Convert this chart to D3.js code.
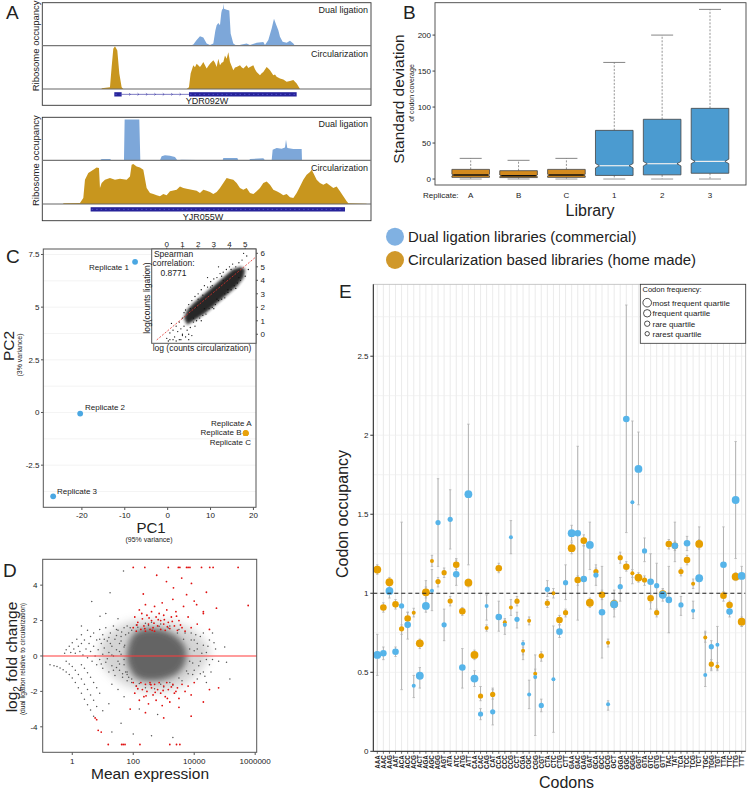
<!DOCTYPE html>
<html><head><meta charset="utf-8">
<script src="https://cdn.jsdelivr.net/npm/d3@7/dist/d3.min.js"></script>
<style>
body{margin:0;background:#fff;}
svg{display:block;}
text{font-family:"Liberation Sans",Arial,Helvetica,sans-serif;fill:#222;}
</style></head>
<body>
<svg id="fig" width="747" height="791"></svg>
<script>
// ================= DATA =================
// Panel A: coverage profiles [genomic position, reads]
const g1Dual = [[570,0],[580,4],[590,17],[600,29],[610,25],[620,7],[630,2],[640,7],[646,45],[650,62],[655,69],[660,62],[664,100],[666,109],[669,112],[670,127],[672,112],[680,109],[688,107],[692,37],[700,7],[710,0],[725,4],[740,7],[750,2],[770,9],[790,11],[795,2],[805,17],[815,52],[822,82],[828,65],[835,47],[840,27],[848,12],[860,9],[870,15],[880,7],[885,0]];
const g1Circ = [[305,2],[330,5],[335,67],[340,122],[345,130],[352,117],[358,47],[365,5],[370,0],[560,0],[567,5],[572,47],[580,72],[585,66],[590,77],[600,67],[605,74],[610,82],[620,62],[625,70],[630,77],[640,87],[645,80],[650,67],[655,92],[660,72],[665,80],[670,82],[675,102],[680,92],[685,112],[688,95],[690,82],[700,57],[705,65],[710,67],[720,72],[725,66],[730,62],[740,72],[745,64],[750,67],[760,72],[765,60],[770,52],[780,42],[785,48],[790,52],[800,67],[805,62],[810,57],[820,42],[825,44],[830,37],[840,32],[850,29],[860,22],[870,24],[880,27],[890,17],[900,0]];
const g2Dual = [[300,0],[305,4],[330,4],[335,0],[372,0],[374,124],[418,124],[421,0],[480,0],[485,12],[495,15],[510,14],[525,10],[532,0],[545,2],[590,1],[600,0],[668,0],[670,7],[712,7],[715,0],[748,0],[750,4],[790,6],[795,0],[815,0],[818,32],[830,37],[845,35],[855,39],[858,62],[862,37],[880,34],[905,34],[906,0]];
const g2Circ = [[190,2],[240,3],[250,18],[255,73],[265,93],[280,103],[290,110],[297,108],[300,48],[305,63],[315,73],[330,78],[345,73],[360,76],[380,73],[390,83],[395,118],[400,120],[410,113],[420,110],[430,103],[440,48],[450,33],[460,30],[470,26],[480,23],[490,30],[500,26],[510,38],[530,43],[540,53],[550,48],[560,46],[575,43],[590,40],[600,33],[610,43],[620,40],[630,36],[640,30],[650,36],[660,48],[670,63],[680,78],[690,75],[700,73],[710,63],[720,48],[730,43],[740,48],[750,33],[760,30],[770,38],[780,48],[790,63],[800,68],[810,58],[820,43],[830,38],[840,33],[850,26],[860,30],[870,20],[880,18],[890,33],[900,53],[910,73],[920,88],[930,96],[935,103],[940,93],[950,73],[960,63],[970,58],[980,63],[990,56],[1000,48],[1010,53],[1020,38],[1030,23],[1040,8],[1045,2],[1100,1]];
const g1Exons = [[343,365],[567,890]];
const g1Introns = [[365,567]];
const g2Exons = [[272,1035]];
const g2Introns = [];
const geneNames = ["YDR092W","YJR055W"];

// Panel B: box plot statistics of SD of codon coverage
const libs = ["A","B","C","1","2","3"];
const libType = ["circ","circ","circ","dual","dual","dual"];
const bxLo = [0,0,0,0,0,0];
const bxQ1 = [2.3,2.0,2.3,5.0,5.8,8.0];
const bxMed = [5.5,4.5,5.5,18.5,21.3,24.5];
const bxQ3 = [13.4,11.6,13.4,67.6,83,98.2];
const bxHi = [28.7,26,28.7,162,200,235.7];
const bTicks = [0,50,100,150,200];

// Panel C: PCA
const pcaNames = ["Replicate 1","Replicate 2","Replicate 3","Replicate A","Replicate B","Replicate C"];
const pcaType = ["dual","dual","dual","circ","circ","circ"];
const pc1 = [-7.6,-20.4,-26.7,18.2,18.2,18.2];
const pc2 = [7.15,-0.05,-3.98,-0.98,-0.98,-0.98];
const cXTicks = [-20,-10,0,10,20];
const cYTicks = [-2.5,0,2.5,5,7.5];
// Inset: log counts (circularization, ligation)
const insetCore = [[1.3,0.7],[2.0,1.2],[2.5,1.6],[3.0,2.1],[3.5,2.6],[4.0,3.1],[4.5,3.6],[4.9,4.2],[5.0,4.8],[4.7,5.0],[4.2,4.8],[3.7,4.3],[3.2,3.8],[2.7,3.3],[2.2,2.8],[1.7,2.3],[1.3,1.8],[1.1,1.2]];
const insetPts = [[0.0,-0.3],[0.2,0.1],[0.4,0.3],[0.5,-0.2],[0.6,0.6],[0.7,0.2],[0.8,0.9],[0.9,0.4],[1.0,-0.1],[1.0,1.2],[1.1,0.6],[1.2,1.8],[1.3,0.3],[1.4,2.2],[1.5,0.5],[1.6,2.5],[1.7,0.9],[1.8,2.8],[1.9,1.0],[2.0,3.0],[2.1,1.2],[2.2,3.3],[2.3,1.4],[2.4,3.6],[2.5,1.5],[2.6,3.5],[2.7,1.9],[2.8,3.9],[2.9,2.0],[3.0,4.1],[3.1,2.2],[3.2,4.2],[3.3,2.5],[3.4,4.5],[3.5,2.6],[3.6,4.6],[3.7,3.0],[3.8,4.8],[3.9,3.1],[4.0,5.0],[4.1,3.3],[4.2,5.2],[4.3,3.6],[4.4,5.0],[4.5,3.8],[4.6,5.3],[4.7,4.0],[4.8,5.5],[5.0,4.3],[5.1,5.8],[5.2,4.8],[0.3,0.8],[0.1,-0.5],[0.6,-0.5],[1.0,0.0],[1.4,0.0],[1.8,0.6],[2.6,4.2],[3.3,5.0],[4.9,6.0],[1.2,-0.2],[0.9,-0.4],[1.6,-0.1],[1.1,1.6],[1.5,1.9],[2.3,2.9],[2.9,3.6],[3.5,4.3],[4.1,4.8],[1.7,1.2],[2.4,1.9],[3.2,2.6],[3.9,3.3],[4.6,4.2],[0.2,-0.4],[0.4,-0.4],[0.8,-0.4],[1.4,-0.4],[1.9,2.0],[2.2,1.0],[3.0,1.9],[3.7,2.7],[4.4,3.4],[2.0,2.6],[2.8,3.5],[3.6,4.0]];
const insetTicks = [0,1,2,3,4,5];
const insetYTicks = [0,1,2,3,4,5,6];
const spearman = "0.8771";

// Panel D: MA plot [log10 mean expression, log2 fold change]
const dHalo = [[1.0,0.9],[1.3,1.4],[1.7,1.8],[2.2,2.0],[2.8,2.0],[3.4,1.85],[3.9,1.5],[4.3,0.9],[4.5,0.2],[4.3,-0.6],[3.9,-1.3],[3.4,-1.8],[2.8,-2.0],[2.2,-1.9],[1.7,-1.6],[1.3,-1.1],[1.0,-0.5],[0.9,0.2]];
const dCore = [[1.8,0.2],[1.9,0.9],[2.05,1.3],[2.3,1.5],[2.7,1.55],[3.1,1.4],[3.45,1.05],[3.7,0.5],[3.75,0.0],[3.65,-0.6],[3.4,-1.05],[3.05,-1.3],[2.7,-1.4],[2.3,-1.35],[2.05,-1.15],[1.9,-0.75],[1.8,-0.3]];
const dGrey = [[-0.25,0.15],[-0.2,0.35],[-0.1,0.55],[-0.05,0.2],[0.0,0.75],[0.05,0.4],[0.1,0.15],[0.15,0.95],[0.2,0.55],[0.25,0.25],[0.3,1.2],[0.3,0.7],[0.35,0.05],[0.4,0.9],[0.45,0.4],[0.5,1.45],[0.5,-0.1],[0.55,0.7],[0.6,1.1],[0.6,0.25],[0.65,-0.3],[0.7,1.3],[0.7,0.55],[0.75,0.0],[0.8,0.9],[0.8,-0.5],[0.85,0.35],[0.9,1.5],[0.9,-0.2],[0.95,0.7],[1.0,1.2],[1.0,0.1],[1.0,-0.7],[1.05,0.45],[1.1,1.6],[1.1,-0.35],[1.15,0.85],[1.2,0.2],[1.2,-0.9],[1.25,1.3],[1.3,0.55],[1.3,-0.55],[1.35,1.7],[1.35,0.0],[1.4,0.95],[1.4,-1.1],[1.45,0.35],[1.5,1.45],[1.5,-0.3],[1.55,0.7],[1.55,-0.8],[1.6,1.1],[1.6,0.1],[1.65,-1.2],[1.7,1.6],[1.7,0.5],[1.7,-0.5],[1.75,1.2],[1.75,-0.9],[1.8,-1.4],[1.8,1.7],
[-0.73,-0.5],[-0.6,-0.55],[-0.5,-0.6],[-0.4,-0.68],[-0.3,-0.78],[-0.2,-0.9],[-0.1,-1.05],[0.0,-1.25],[0.1,-1.5],[0.2,-1.8],[0.3,-2.1],[0.4,-2.45],[0.5,-2.75],[0.6,-3.05],[0.7,-3.4],
[-0.2,-0.3],[-0.1,-0.45],[0.0,-0.6],[0.1,-0.8],[0.2,-1.05],[0.3,-1.3],[0.4,-1.6],[0.5,-1.9],[0.6,-2.2],[0.7,-2.5],[0.8,-2.85],
[0.3,-0.5],[0.4,-0.7],[0.5,-0.95],[0.6,-1.2],[0.7,-1.5],[0.8,-1.8],[0.9,-2.1],
[0.64,3.07],[0.3,1.7],[0.91,2.25],[1.24,3.57],[1.68,4.8],[1.1,2.4],[1.5,2.1],
[1.9,1.6],[2.1,1.75],[2.4,1.85],[2.6,1.9],[2.9,1.8],[3.2,1.7],[3.5,1.5],[3.7,1.3],[3.9,0.9],[4.0,0.3],[3.95,-0.4],[3.8,-1.0],[3.6,-1.4],[3.3,-1.65],[3.0,-1.75],[2.7,-1.85],[2.4,-1.8],[2.1,-1.7],[1.95,-1.5],[1.85,-1.2],[1.8,-0.9],
[3.9,1.3],[4.0,0.9],[4.0,-0.8],[4.1,0.4],[4.1,-1.3],[4.2,1.1],[4.2,-0.3],[4.3,0.6],[4.3,-0.9],[4.4,0.2],[4.5,0.9],[4.5,-0.5],[4.6,-0.2],[4.7,0.4],[4.8,-0.3],[5.06,-0.36],[5.17,-1.3],[4.4,-1.5],[4.6,1.3],[5.0,0.5],
[1.3,-1.6],[1.5,-1.9],[1.7,-2.3],[1.2,-2.7],[1.0,-3.1],[2.2,-3.0],[2.8,-3.3],[1.6,-3.8],[2.0,-4.4],[2.6,-4.5],[3.3,-4.6],[1.3,-4.3],
[1.85,1.3],[1.95,1.45],[2.15,1.62],[2.5,1.72],[2.85,1.68],[3.15,1.58],[3.45,1.3],[3.65,0.95],[3.85,0.4],[3.85,-0.3],[3.75,-0.85],[3.5,-1.25],[3.2,-1.5],[2.9,-1.6],[2.55,-1.6],[2.2,-1.55],[1.95,-1.3],[1.8,-1.05],[1.7,-0.2],[1.72,0.6],[1.6,0.85],[1.55,-0.45],[1.45,1.15],[1.45,-0.65],
[1.05,0.95],[1.15,-0.15],[1.25,0.7],[1.35,-0.8],[1.45,1.5],[1.55,0.25],[1.62,1.35],[1.65,-1.0],[0.9,0.95],[0.95,-0.45],[1.2,1.05],[1.3,0.05],[4.05,1.2],[4.15,-0.55],[4.25,0.15],[4.35,-1.15],[4.45,0.55],[4.55,-0.9],[4.65,0.75],[3.95,-1.05],[4.1,0.7],[4.2,-1.0],[4.3,1.3],[4.4,-0.2]];
const dRed = [[2.0,1.6],[2.05,2.2],[2.1,1.4],[2.15,1.9],[2.2,2.6],[2.25,1.5],[2.3,2.1],[2.35,1.7],[2.4,2.9],[2.4,1.4],[2.45,2.3],[2.5,1.8],[2.55,1.5],[2.6,2.5],[2.6,2.0],[2.65,1.6],[2.7,2.8],[2.7,1.4],[2.75,2.2],[2.8,1.7],[2.85,2.4],[2.9,1.5],[2.9,2.0],[2.95,3.0],[3.0,1.8],[3.0,2.3],[3.05,1.45],[3.1,2.6],[3.15,1.9],[3.2,1.55],[3.25,2.2],[3.3,3.2],[3.35,1.7],[3.4,2.5],[3.45,1.45],[3.5,2.0],[3.6,1.6],[3.65,2.8],[3.7,1.4],[3.8,2.2],[3.9,1.6],[4.0,3.1],[4.1,1.8],[4.3,2.4],[4.5,1.5],
[2.12,1.75],[2.28,2.4],[2.52,2.15],[2.68,1.85],[2.82,2.05],[3.02,2.05],[3.12,1.65],[3.28,1.95],[3.42,2.25],[3.55,1.75],[2.38,1.55],[2.62,1.45],
[2.33,3.5],[2.77,4.56],[3.09,4.2],[3.32,3.85],[3.59,4.4],[3.75,3.46],[3.91,4.1],[4.08,2.9],[4.3,2.5],[4.4,3.6],[4.73,2.7],[5.77,2.85],
[2.0,5],[2.38,5],[3.15,5],[3.48,5],[3.53,5],[3.75,5],[3.8,5],[3.86,5],[4.24,5],[4.51,5],[4.62,5],[5.44,5],
[2.0,-1.5],[2.05,-2.1],[2.1,-1.7],[2.2,-2.5],[2.25,-1.5],[2.3,-1.9],[2.35,-2.3],[2.4,-1.6],[2.45,-2.0],[2.5,-2.7],[2.55,-1.5],[2.6,-1.8],[2.65,-2.2],[2.7,-1.6],[2.75,-2.5],[2.8,-1.9],[2.85,-1.5],[2.9,-2.1],[2.95,-2.8],[3.0,-1.7],[3.05,-2.3],[3.1,-1.5],[3.15,-1.9],[3.2,-2.6],[3.3,-1.6],[3.35,-2.1],[3.45,-1.8],[3.5,-2.4],[3.6,-1.6],[3.7,-2.0],[3.8,-1.7],[3.9,-2.2],[4.0,-1.5],
[2.15,-1.85],[2.42,-2.25],[2.58,-1.62],[2.72,-2.05],[2.98,-1.95],[3.12,-2.4],[3.25,-1.75],[3.4,-2.0],
[1.9,-3.0],[2.4,-3.2],[3.0,-3.5],[3.5,-2.9],[3.9,-3.4],[4.3,-2.6],[4.5,-1.9],[4.8,-1.8],[0.75,-3.5],[0.8,-3.6],[0.85,-4.2],[0.95,-4.3],
[1.18,-5],[1.62,-5],[1.67,-5],[1.73,-5],[2.22,-5],[3.2,-5],[3.42,-5],[3.53,-5]];
const dXTicks = [1,100,10000,1000000];
const dYTicks = [-4,-2,0,2,4];

// Panel E: codon occupancy (61 sense codons)
const codons = ["AAA","AAC","AAG","AAT","ACA","ACC","ACG","ACT","AGA","AGC","AGG","AGT","ATA","ATC","ATG","ATT","CAA","CAC","CAG","CAT","CCA","CCC","CCG","CCT","CGA","CGC","CGG","CGT","CTA","CTC","CTG","CTT","GAA","GAC","GAG","GAT","GCA","GCC","GCG","GCT","GGA","GGC","GGG","GGT","GTA","GTC","GTG","GTT","TAC","TAT","TCA","TCC","TCG","TCT","TGC","TGG","TGT","TTA","TTC","TTG","TTT"];
const quartile = [4,3,4,3,2,3,1,4,4,1,2,2,2,3,3,4,4,2,1,2,3,1,1,2,1,1,1,2,2,1,3,2,4,3,3,4,2,3,1,4,2,3,1,4,2,3,2,4,3,3,2,3,1,4,1,2,1,3,3,4,4];
const dualVal = [0.61,0.62,1.015,0.63,0.92,0.80,0.415,0.478,0.92,1.016,1.447,0.80,1.468,1.12,0.53,1.627,0.46,0.236,0.92,0.25,0.85,0.80,1.354,0.835,0.68,0.36,0.47,0.29,1.025,0.456,0.757,1.067,1.38,1.38,1.09,1.306,1.115,0.88,0.297,0.93,1.042,2.103,1.576,1.787,1.268,1.073,1.048,0.99,0.958,1.30,0.926,1.316,0.89,1.095,0.483,0.662,0.674,1.18,0.884,1.59,1.11];
const dualLo = [0.48,0.58,0.97,0.6,0.39,0.71,0.34,0.40,0.88,0.89,1.17,0.70,1.28,1.05,0.40,1.18,0.41,0.2,0.83,0.167,0.76,0.74,1.25,0.78,0.58,0.27,0.1,0.25,0.98,0.12,0.72,0.96,1.33,0.83,1.0,1.15,1.05,0.59,0.26,0.85,0.95,1.384,1.06,1.56,1.2,0.9,0.89,0.95,0.75,1.2,0.86,1.27,0.84,1.0,0.41,0.51,0.52,0.98,0.85,1.22,0.79];
const dualHi = [0.74,0.66,1.05,0.66,1.45,0.88,0.48,0.53,1.08,1.15,1.725,0.90,1.655,1.22,0.65,2.07,0.51,0.27,0.99,0.40,0.95,0.83,1.46,0.88,0.70,0.45,0.61,0.33,1.08,0.793,0.8,1.18,1.43,1.93,1.3,1.45,1.18,1.17,0.32,1.02,1.1,2.824,2.09,2.02,1.35,1.25,1.19,1.03,1.17,1.45,0.98,1.36,0.95,1.42,0.76,0.70,0.79,1.42,0.93,1.96,1.17];
const circVal = [1.15,0.91,1.07,0.93,0.775,0.84,0.877,0.683,1.006,1.204,1.074,1.13,0.951,1.18,0.886,1.067,0.61,0.35,0.78,0.36,1.158,0.816,0.91,0.95,0.636,0.826,0.49,0.604,0.937,1.0,0.831,0.877,1.285,1.084,1.333,0.94,1.137,0.99,0.687,0.932,1.225,1.168,1.126,1.099,1.084,0.968,0.877,0.995,1.312,1.30,1.137,1.21,1.06,1.312,0.72,0.551,0.536,0.985,0.926,1.105,0.82];
const circLo = [1.12,0.88,1.04,0.9,0.74,0.8,0.85,0.65,0.97,1.17,1.04,1.1,0.92,1.15,0.86,1.04,0.58,0.32,0.76,0.33,1.13,0.79,0.86,0.92,0.61,0.8,0.46,0.57,0.91,0.97,0.8,0.85,1.25,1.05,1.3,0.91,1.11,0.96,0.66,0.9,1.19,1.14,1.1,1.07,1.05,0.94,0.85,0.97,1.28,1.27,1.11,1.18,1.03,1.28,0.69,0.52,0.51,0.95,0.9,1.08,0.79];
const circHi = [1.18,0.94,1.1,0.96,0.8,0.88,0.905,0.71,1.04,1.24,1.1,1.16,0.98,1.21,0.91,1.09,0.64,0.41,0.8,0.39,1.19,0.84,0.96,0.98,0.66,0.85,0.52,0.63,0.96,1.03,0.86,0.9,1.32,1.11,1.37,0.97,1.16,1.02,0.71,0.96,1.26,1.2,1.15,1.13,1.11,1.0,0.9,1.02,1.34,1.33,1.16,1.24,1.09,1.34,0.75,0.58,0.56,1.01,0.95,1.13,0.85];
const eYTicks = [0,0.5,1,1.5,2,2.5];
const quartileNames = ["most frequent quartile","frequent quartile","rare quartile","rarest quartile"];

// ================= COLOURS =================
const C_BLUE_A = "#7da7d9", C_GOLD_A = "#c8961e", C_GENE = "#26239a";
const C_BOX_O = "#d38a1e", C_BOX_B = "#4b9bd0";
const C_LEG_B = "#80b1e2", C_LEG_O = "#d0982a";
const C_E_B = "#56b4e9", C_E_O = "#e69f00";

const svg = d3.select("#fig");
const defs = svg.append("defs");
defs.append("filter").attr("id", "blur3").attr("x", "-30%").attr("y", "-30%").attr("width", "160%").attr("height", "160%")
  .append("feGaussianBlur").attr("stdDeviation", 3.2);
defs.append("filter").attr("id", "blur5").attr("x", "-40%").attr("y", "-40%").attr("width", "180%").attr("height", "180%")
  .append("feGaussianBlur").attr("stdDeviation", 5);
defs.append("filter").attr("id", "blur1").attr("x", "-30%").attr("y", "-30%").attr("width", "160%").attr("height", "160%")
  .append("feGaussianBlur").attr("stdDeviation", 1.4);

function text(x, y, s, size, anchor = "start", extra = {}) {
  const t = svg.append("text").attr("x", x).attr("y", y).attr("font-size", size).attr("text-anchor", anchor).text(s);
  for (const k in extra) t.attr(k, extra[k]);
  return t;
}
function rtext(x, y, s, size, anchor = "middle") {
  return svg.append("text").attr("transform", `translate(${x},${y}) rotate(-90)`).attr("font-size", size).attr("text-anchor", anchor).text(s);
}

// ================= PANEL A =================
text(6, 19, "A", 19);
const posX = d3.scaleLinear().domain([127, 1113]).range([42.3, 371]);
function drawTrack(top, mid, gtop, bot, dual, circ, exons, introns, name, nameXY) {
  const yD = d3.scaleLinear().domain([0, 129]).range([mid, top + 0.5]).clamp(true);
  const yC = d3.scaleLinear().domain([0, 130]).range([gtop, mid + 0.5]).clamp(true);
  svg.append("path").datum(dual).attr("fill", C_BLUE_A)
    .attr("d", d3.area().x(d => posX(d[0])).y0(mid).y1(d => yD(d[1])));
  svg.append("path").datum(circ).attr("fill", C_GOLD_A)
    .attr("d", d3.area().x(d => posX(d[0])).y0(gtop).y1(d => yC(d[1])));
  svg.append("rect").attr("x", 42.3).attr("y", top).attr("width", 371 - 42.3).attr("height", bot - top)
    .attr("fill", "none").attr("stroke", "#333").attr("stroke-width", 0.9);
  svg.append("line").attr("x1", 42.3).attr("x2", 371).attr("y1", mid).attr("y2", mid).attr("stroke", "#777").attr("stroke-width", 1.2);
  svg.append("line").attr("x1", 42.3).attr("x2", 371).attr("y1", gtop).attr("y2", gtop).attr("stroke", "#666").attr("stroke-width", 1.2);
  const gy = gtop + 3.2, gh = 4.3;
  introns.forEach(iv => {
    svg.append("line").attr("x1", posX(iv[0])).attr("x2", posX(iv[1])).attr("y1", gy + gh / 2).attr("y2", gy + gh / 2)
      .attr("stroke", C_GENE).attr("stroke-width", 0.6);
    const n = 8;
    for (let k = 1; k < n; k++) {
      const cx = posX(iv[0] + (iv[1] - iv[0]) * k / n);
      svg.append("path").attr("d", `M${cx - 1},${gy + gh / 2 - 1.2}L${cx + 0.4},${gy + gh / 2}L${cx - 1},${gy + gh / 2 + 1.2}`)
        .attr("fill", "none").attr("stroke", C_GENE).attr("stroke-width", 0.5);
    }
  });
  exons.forEach(ex => {
    svg.append("rect").attr("x", posX(ex[0])).attr("y", gy).attr("width", posX(ex[1]) - posX(ex[0])).attr("height", gh).attr("fill", C_GENE);
    svg.append("line").attr("x1", posX(ex[0]) + 1).attr("x2", posX(ex[1]) - 1).attr("y1", gy + gh / 2).attr("y2", gy + gh / 2)
      .attr("stroke", "#5a5ad6").attr("stroke-width", 0.8).attr("stroke-dasharray", "1.5,3");
  });
  text(nameXY.x, nameXY.y, name, 9, "middle");
  text(368, top + 10, "Dual ligation", 9, "end");
  text(368, mid + 11, "Circularization", 9, "end");
  rtext(39, (top + gtop) / 2, "Ribosome occupancy", 9.5);
}
drawTrack(2.7, 45.7, 89, 105.3, g1Dual, g1Circ, g1Exons, g1Introns, geneNames[0], {x: 207, y: 104});
drawTrack(117.3, 160.3, 204, 220.7, g2Dual, g2Circ, g2Exons, g2Introns, geneNames[1], {x: 203, y: 219.5});

// ================= PANEL B =================
text(403, 19, "B", 19);
const bX = d3.scalePoint().domain(libs).range([470.7, 710]);
const bY = d3.scaleLinear().domain([-8.3, 245]).range([185, 2.7]);
const bw = 37.6;
libs.forEach((l, i) => {
  const cx = bX(l), x0 = cx - bw / 2, x1 = cx + bw / 2;
  const fill = libType[i] === "dual" ? C_BOX_B : C_BOX_O;
  svg.append("line").attr("x1", cx).attr("x2", cx).attr("y1", bY(bxQ3[i])).attr("y2", bY(bxHi[i]))
    .attr("stroke", "#666").attr("stroke-width", 0.7).attr("stroke-dasharray", "2,1.5");
  svg.append("line").attr("x1", cx).attr("x2", cx).attr("y1", bY(bxQ1[i])).attr("y2", bY(bxLo[i]))
    .attr("stroke", "#666").attr("stroke-width", 0.7).attr("stroke-dasharray", "2,1.5");
  svg.append("line").attr("x1", cx - 11).attr("x2", cx + 11).attr("y1", bY(bxHi[i])).attr("y2", bY(bxHi[i]))
    .attr("stroke", "#777").attr("stroke-width", 0.9);
  svg.append("line").attr("x1", cx - 11).attr("x2", cx + 11).attr("y1", bY(bxLo[i])).attr("y2", bY(bxLo[i]))
    .attr("stroke", "#aaa").attr("stroke-width", 1.2);
  const q1 = bY(bxQ1[i]), q3 = bY(bxQ3[i]), m = bY(bxMed[i]);
  const nh = libType[i] === "dual" ? 2.2 : 0.8, k = libType[i] === "dual" ? 4 : 1.5;
  const p = `M${x0},${q1}L${x0},${m + nh}L${x0 + k},${m}L${x0},${m - nh}L${x0},${q3}L${x1},${q3}L${x1},${m - nh}L${x1 - k},${m}L${x1},${m + nh}L${x1},${q1}Z`;
  svg.append("path").attr("d", p).attr("fill", fill).attr("stroke", "#444").attr("stroke-width", 0.8);
  svg.append("line").attr("x1", x0 + k).attr("x2", x1 - k).attr("y1", m).attr("y2", m)
    .attr("stroke", libType[i] === "dual" ? "#eeeeee" : "#111").attr("stroke-width", libType[i] === "dual" ? 1.2 : 1.6);
  text(cx, 197.5, l, 8, "middle");
});
svg.append("rect").attr("x", 435).attr("y", 2.7).attr("width", 746 - 435).attr("height", 185 - 2.7)
  .attr("fill", "none").attr("stroke", "#444").attr("stroke-width", 0.9);
bTicks.forEach(t => {
  svg.append("line").attr("x1", 432.5).attr("x2", 435).attr("y1", bY(t)).attr("y2", bY(t)).attr("stroke", "#444");
  text(431, bY(t) + 2.8, String(t), 8, "end");
});
text(423, 197.5, "Replicate:", 8, "start");
text(590, 216, "Library", 16, "middle");
rtext(404, 99, "Standard deviation", 15.5);
rtext(414, 93, "of codon coverage", 7);

// Legend
svg.append("circle").attr("cx", 395).attr("cy", 236.7).attr("r", 9).attr("fill", C_LEG_B);
svg.append("circle").attr("cx", 395).attr("cy", 260).attr("r", 9).attr("fill", C_LEG_O);
text(408, 241.7, "Dual ligation libraries (commercial)", 14.9);
text(408, 265, "Circularization based libraries (home made)", 14.9);

// ================= PANEL C =================
text(6, 263, "C", 19);
const cX = d3.scaleLinear().domain([-29, 20.6]).range([43.3, 256]);
const cY = d3.scaleLinear().domain([-4.5, 7.76]).range([507.3, 249]);
d3.range(-3.75, 7.6, 1.25).forEach(v => {
  svg.append("line").attr("x1", 43.3).attr("x2", 256).attr("y1", cY(v)).attr("y2", cY(v)).attr("stroke", "#eeeeee").attr("stroke-width", 0.7);
});
svg.append("rect").attr("x", 43.3).attr("y", 249).attr("width", 256 - 43.3).attr("height", 507.3 - 249)
  .attr("fill", "none").attr("stroke", "#555").attr("stroke-width", 1);
cYTicks.forEach(t => {
  svg.append("line").attr("x1", 41).attr("x2", 43.3).attr("y1", cY(t)).attr("y2", cY(t)).attr("stroke", "#555");
  text(39.5, cY(t) + 2.8, String(t), 8, "end");
});
cXTicks.forEach(t => {
  svg.append("line").attr("x1", cX(t)).attr("x2", cX(t)).attr("y1", 507.3).attr("y2", 510).attr("stroke", "#555");
  text(cX(t), 517.5, String(t), 8, "middle");
});
pc1.forEach((v, i) => {
  svg.append("circle").attr("cx", cX(v)).attr("cy", cY(pc2[i])).attr("r", 2.9)
    .attr("fill", pcaType[i] === "dual" ? "#4aa7e2" : "#e8a20c");
});
text(129, 269.5, pcaNames[0], 8, "end");
text(85, 409.5, pcaNames[1], 8, "start");
text(57, 493.5, pcaNames[2], 8, "start");
text(251.5, 425.5, pcaNames[3], 8, "end");
text(241.5, 434.5, pcaNames[4], 8, "end");
text(251, 444.5, pcaNames[5], 8, "end");
text(151, 533, "PC1", 15, "middle");
text(149, 541.5, "(95% variance)", 7, "middle");
rtext(13.5, 346, "PC2", 15.5);
rtext(22, 355, "(3% variance)", 7);

// Inset
const iX = d3.scaleLinear().domain([-0.96, 5.69]).range([151.7, 256]);
const iY = d3.scaleLinear().domain([-0.67, 6.32]).range([343.3, 249]);
svg.append("rect").attr("x", 151.7).attr("y", 249).attr("width", 256 - 151.7).attr("height", 343.3 - 249)
  .attr("fill", "#fff").attr("stroke", "none");
svg.append("path").datum(insetCore).attr("fill", "#1c1c1c").attr("opacity", 0.95).attr("filter", "url(#blur1)")
  .attr("d", d3.line().x(d => iX(d[0])).y(d => iY(d[1])).curve(d3.curveLinearClosed));
insetPts.forEach(d => svg.append("circle").attr("cx", iX(d[0])).attr("cy", iY(d[1])).attr("r", 0.65).attr("fill", "#111"));
svg.append("line").attr("x1", iX(-0.64)).attr("y1", iY(-0.42)).attr("x2", iX(5.7)).attr("y2", iY(5.75))
  .attr("stroke", "#e0302a").attr("stroke-width", 0.8).attr("stroke-dasharray", "2,1.5");
svg.append("rect").attr("x", 151.7).attr("y", 249).attr("width", 256 - 151.7).attr("height", 343.3 - 249)
  .attr("fill", "none").attr("stroke", "#555").attr("stroke-width", 1);
insetTicks.forEach(t => {
  svg.append("line").attr("x1", iX(t)).attr("x2", iX(t)).attr("y1", 249).attr("y2", 247.5).attr("stroke", "#555");
  text(iX(t), 247, String(t), 8, "middle");
});
insetYTicks.forEach(t => {
  svg.append("line").attr("x1", 256).attr("x2", 258).attr("y1", iY(t)).attr("y2", iY(t)).attr("stroke", "#555");
  text(260.5, iY(t) + 2.8, String(t), 8, "start");
});
text(173.5, 256.5, "Spearman", 8.5, "middle");
text(173.5, 266, "correlation:", 8.5, "middle");
text(173.5, 275.5, spearman, 8.5, "middle");
rtext(149.5, 298, "log(counts ligation)", 8.5);
text(202, 351, "log (counts circularization)", 8.5, "middle");

// ================= PANEL D =================
text(3, 577, "D", 19);
const dX = d3.scaleLog().domain([Math.pow(10, -0.97), Math.pow(10, 6.05)]).range([42.7, 256.7]);
const dY = d3.scaleLinear().domain([-5.44, 5.46]).range([752.3, 559.3]);
const lx = v => dX(Math.pow(10, v));
const dClip = defs.append("clipPath").attr("id", "dclip");
dClip.append("rect").attr("x", 42.7).attr("y", 559.3).attr("width", 214).attr("height", 193);
const dG = svg.append("g").attr("clip-path", "url(#dclip)");
dG.append("path").datum(dHalo).attr("fill", "#9a9a9a").attr("opacity", 0.42).attr("filter", "url(#blur5)")
  .attr("d", d3.line().x(d => lx(d[0])).y(d => dY(d[1])).curve(d3.curveCatmullRomClosed));
dG.append("path").datum(dCore).attr("fill", "#4a4a4a").attr("opacity", 0.8).attr("filter", "url(#blur3)")
  .attr("d", d3.line().x(d => lx(d[0])).y(d => dY(d[1])).curve(d3.curveCatmullRomClosed));
dGrey.forEach(d => dG.append("circle").attr("cx", lx(d[0])).attr("cy", dY(d[1])).attr("r", 0.75).attr("fill", "#555"));
dRed.forEach(d => dG.append("circle").attr("cx", lx(d[0])).attr("cy", dY(d[1])).attr("r", 0.9).attr("fill", "#e01010"));
svg.append("line").attr("x1", 42.7).attr("x2", 256.7).attr("y1", dY(0)).attr("y2", dY(0)).attr("stroke", "#ff3b3b").attr("stroke-width", 1.1);
svg.append("rect").attr("x", 42.7).attr("y", 559.3).attr("width", 256.7 - 42.7).attr("height", 752.3 - 559.3)
  .attr("fill", "none").attr("stroke", "#555").attr("stroke-width", 1);
dYTicks.forEach(t => {
  svg.append("line").attr("x1", 40.2).attr("x2", 42.7).attr("y1", dY(t)).attr("y2", dY(t)).attr("stroke", "#555");
  text(37.5, dY(t) + 2.8, String(t), 8, "end");
});
dXTicks.forEach(t => {
  svg.append("line").attr("x1", dX(t)).attr("x2", dX(t)).attr("y1", 752.3).attr("y2", 755).attr("stroke", "#555");
  text(dX(t), 764, String(t), 8, "middle");
});
text(150, 778.5, "Mean expression", 15.5, "middle");
{
  const t = svg.append("text").attr("transform", "translate(16.5,657) rotate(-90)").attr("font-size", 15.5).attr("text-anchor", "middle");
  t.append("tspan").text("log");
  t.append("tspan").attr("font-size", 10).attr("dy", 4).text("2");
  t.append("tspan").attr("dy", -4).text(" fold change");
}
rtext(24.5, 659, "(dual ligation relative to circularization)", 6.6);

// ================= PANEL E =================
text(339, 298, "E", 19);
const eX = d3.scalePoint().domain(codons).range([377.3, 741.7]);
const eY = d3.scaleLinear().domain([0, 2.955]).range([751.3, 284.3]);
const rQ = {4: 3.9, 3: 3.3, 2: 2.6, 1: 2.0};
const eL = 373.3, eR = 745.7, eT = 284.3, eB = 751.3;
codons.forEach(c => {
  svg.append("line").attr("x1", eX(c)).attr("x2", eX(c)).attr("y1", eT).attr("y2", eB).attr("stroke", "#e6e6e6").attr("stroke-width", 0.8);
});
d3.range(0.25, 2.95, 0.25).forEach(v => {
  svg.append("line").attr("x1", eL).attr("x2", eR).attr("y1", eY(v)).attr("y2", eY(v)).attr("stroke", "#ececec").attr("stroke-width", 0.7);
});
function errBar(c, lo, hi) {
  const x = eX(c);
  svg.append("line").attr("x1", x).attr("x2", x).attr("y1", eY(lo)).attr("y2", eY(hi)).attr("stroke", "#b3b3b3").attr("stroke-width", 1);
  [lo, hi].forEach(v => svg.append("line").attr("x1", x - 1.2).attr("x2", x + 1.2).attr("y1", eY(v)).attr("y2", eY(v)).attr("stroke", "#b3b3b3").attr("stroke-width", 0.8));
}
codons.forEach((c, i) => { errBar(c, dualLo[i], dualHi[i]); errBar(c, circLo[i], circHi[i]); });
codons.forEach((c, i) => {
  svg.append("circle").attr("cx", eX(c)).attr("cy", eY(circVal[i])).attr("r", rQ[quartile[i]]).attr("fill", C_E_O);
});
codons.forEach((c, i) => {
  svg.append("circle").attr("cx", eX(c)).attr("cy", eY(dualVal[i])).attr("r", rQ[quartile[i]]).attr("fill", C_E_B);
});
svg.append("line").attr("x1", eL).attr("x2", eR).attr("y1", eY(1)).attr("y2", eY(1))
  .attr("stroke", "#222").attr("stroke-width", 1.1).attr("stroke-dasharray", "4,3");
svg.append("rect").attr("x", eL).attr("y", eT).attr("width", eR - eL).attr("height", eB - eT)
  .attr("fill", "none").attr("stroke", "#bbb").attr("stroke-width", 0.8);
svg.append("line").attr("x1", eL).attr("x2", eL).attr("y1", eT).attr("y2", eB).attr("stroke", "#222").attr("stroke-width", 1);
svg.append("line").attr("x1", eL).attr("x2", eR).attr("y1", eB).attr("y2", eB).attr("stroke", "#222").attr("stroke-width", 1);
eYTicks.forEach(t => {
  svg.append("line").attr("x1", 370.3).attr("x2", eL).attr("y1", eY(t)).attr("y2", eY(t)).attr("stroke", "#333");
  text(368.5, eY(t) + 2.8, String(t), 8, "end");
});
codons.forEach(c => {
  svg.append("line").attr("x1", eX(c)).attr("x2", eX(c)).attr("y1", eB).attr("y2", eB + 2.5).attr("stroke", "#333").attr("stroke-width", 0.7);
  svg.append("text").attr("transform", `translate(${eX(c) + 2.3},${eB + 3.8}) rotate(-90)`)
    .attr("font-size", 6.3).attr("font-weight", "bold").attr("text-anchor", "end").attr("fill", "#333").text(c);
});
text(566.5, 788, "Codons", 16, "middle");
rtext(347.5, 514, "Codon occupancy", 16);
svg.append("rect").attr("x", 640.3).attr("y", eT).attr("width", eR - 640.3).attr("height", 343.3 - eT)
  .attr("fill", "#fff").attr("stroke", "#333").attr("stroke-width", 0.8);
text(642.5, 292, "Codon frequency:", 7.5);
const legR = [4.3, 3.7, 2.7, 2.2];
const legY = [302.7, 313.3, 323.7, 333.7];
quartileNames.forEach((n, k) => {
  svg.append("circle").attr("cx", 647.2).attr("cy", legY[k]).attr("r", legR[k]).attr("fill", "none").attr("stroke", "#222").attr("stroke-width", 0.8);
  text(652.5, legY[k] + 3, n, 8);
});
</script>
</body></html>
